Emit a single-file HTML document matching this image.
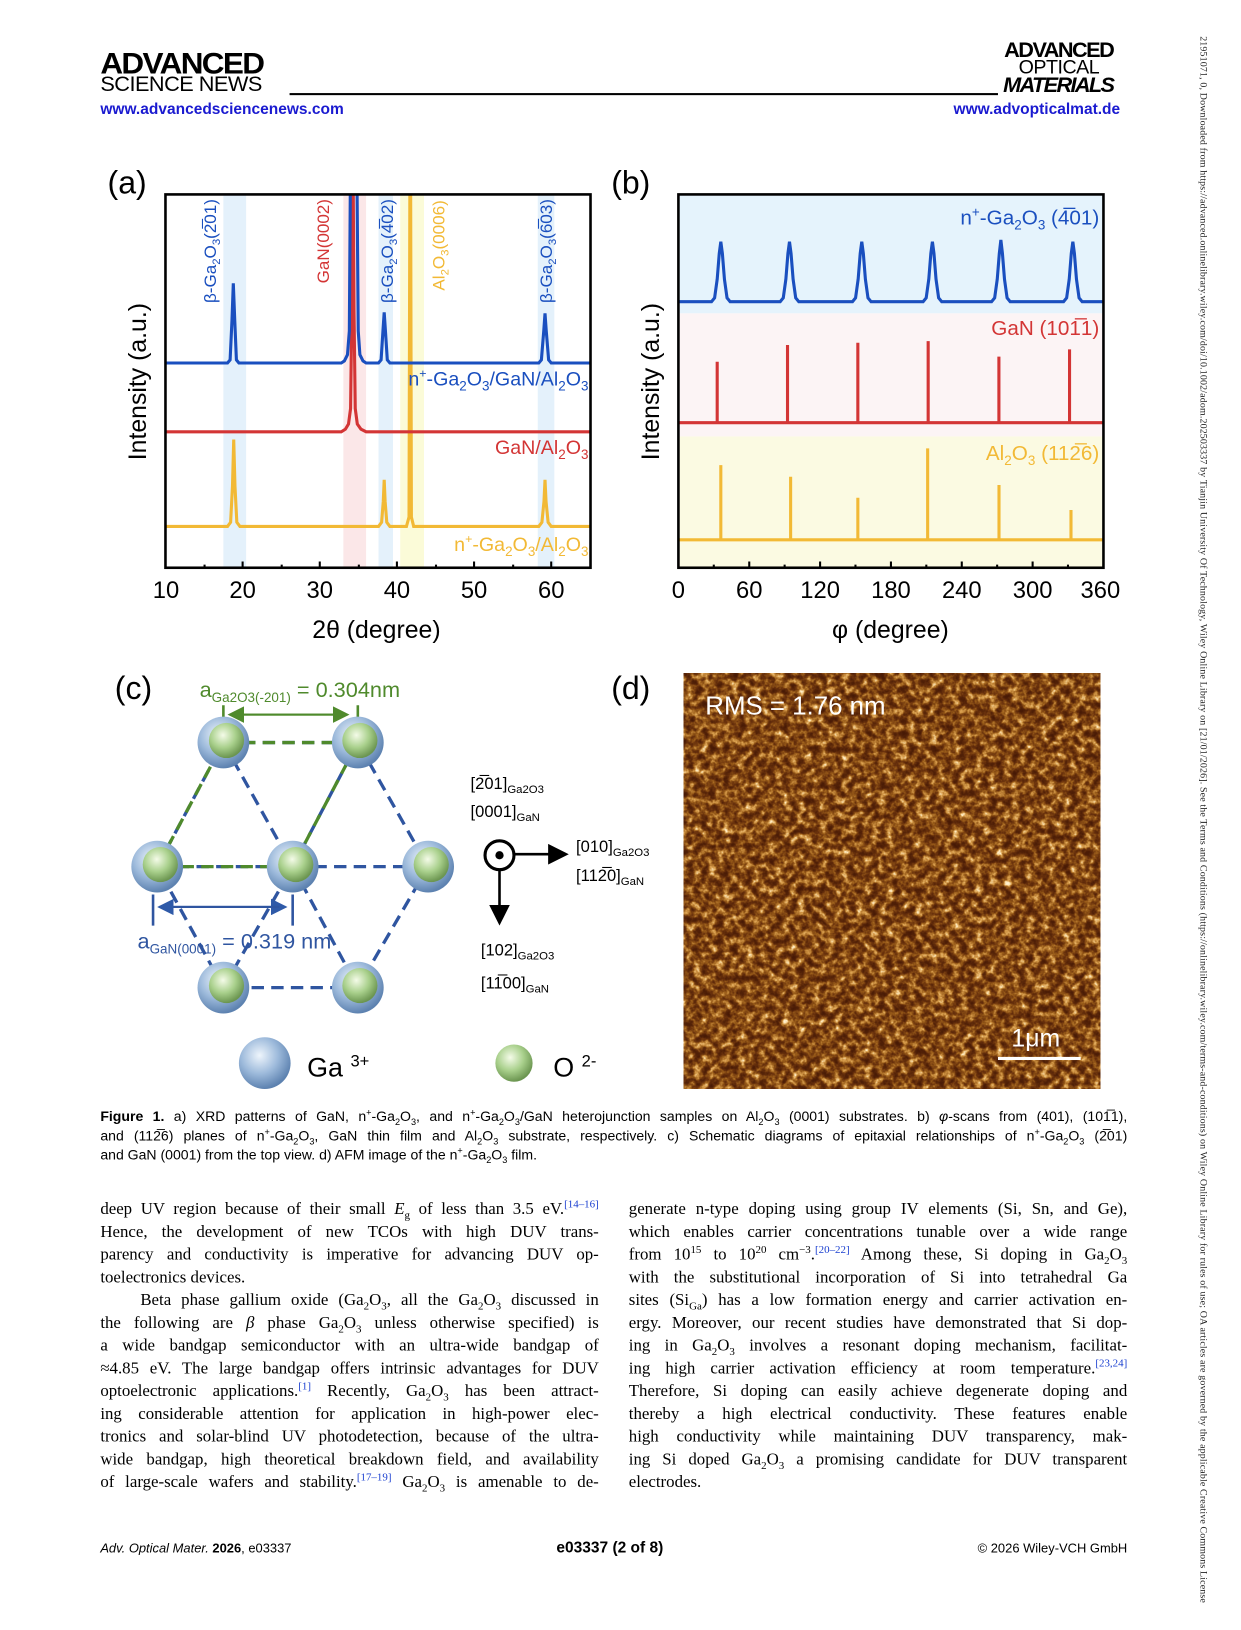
<!DOCTYPE html>
<html><head><meta charset="utf-8">
<style>
html,body{margin:0;padding:0;background:#fff;}
body{width:1241px;height:1630px;overflow:hidden;position:relative;}
#pg{position:absolute;left:0;top:0;width:1200px;height:1576px;transform:scale(1.03417);transform-origin:0 0;font-family:"Liberation Sans",sans-serif;color:#000;}
.abs{position:absolute;white-space:nowrap;}
.col{position:absolute;width:482px;font-family:"Liberation Serif",serif;font-size:16.3px;}
.col div{height:22px;line-height:22px;text-align:justify;text-align-last:justify;white-space:nowrap;overflow:visible;}
.col div.l{text-align-last:left;}
sub,sup{font-size:65%;line-height:0;}
.ref{color:#1a3fd0;}
.cap{position:absolute;left:97px;width:993px;font-size:13.6px;line-height:18.5px;}
.cap div{text-align:justify;text-align-last:justify;white-space:nowrap;}
.cap div.l{text-align-last:left;}
</style></head><body>
<div id="pg">
<!-- header -->
<div class="abs" style="left:97px;top:46px;font-size:29px;font-weight:bold;letter-spacing:-1.5px;transform:scaleX(1.05);transform-origin:0 0;">ADVANCED</div>
<div class="abs" style="left:97px;top:70px;font-size:21px;letter-spacing:-0.5px;">SCIENCE NEWS</div>
<div class="abs" style="left:280px;top:90px;width:685px;height:2px;background:#000;"></div>
<div class="abs" style="left:971px;top:37px;font-size:21px;font-weight:bold;letter-spacing:-1.5px;">ADVANCED</div>
<div class="abs" style="left:985px;top:55px;font-size:19px;letter-spacing:-0.5px;">OPTICAL</div>
<div class="abs" style="left:970px;top:71px;font-size:21px;font-weight:bold;letter-spacing:-1.6px;font-style:italic;">MATERIALS</div>
<div class="abs" style="left:97px;top:97px;font-size:15px;color:#1a1ad0;font-weight:bold;">www.advancedsciencenews.com</div>
<div class="abs" style="left:922px;top:97px;font-size:15px;color:#1a1ad0;font-weight:bold;">www.advopticalmat.de</div>

<!-- vertical side text -->
<div class="abs" style="left:1158px;top:35px;writing-mode:vertical-rl;font-family:'Liberation Serif',serif;font-size:9.6px;color:#222;letter-spacing:0.15px;">21951071, 0, Downloaded from https://advanced.onlinelibrary.wiley.com/doi/10.1002/adom.202503337 by Tianjin University Of Technology, Wiley Online Library on [21/01/2026]. See the Terms and Conditions (https://onlinelibrary.wiley.com/terms-and-conditions) on Wiley Online Library for rules of use; OA articles are governed by the applicable Creative Commons License</div>

<!-- figure -->
<svg class="abs" style="left:0;top:0;" width="1200" height="1576" viewBox="0 0 1200 1576" font-family="Liberation Sans, sans-serif">
<defs>
<clipPath id="ca"><rect x="160" y="188" width="411" height="361"/></clipPath>
<clipPath id="cb"><rect x="656" y="188" width="411" height="361"/></clipPath>
<radialGradient id="gb" cx="40%" cy="35%" r="65%"><stop offset="0" stop-color="#eef5fc"/><stop offset="0.55" stop-color="#9dbadb"/><stop offset="1" stop-color="#5d82b0"/></radialGradient>
<radialGradient id="gg" cx="40%" cy="35%" r="65%"><stop offset="0" stop-color="#f4fbe8"/><stop offset="0.55" stop-color="#a9d08c"/><stop offset="1" stop-color="#6b9550"/></radialGradient>
<filter id="afm" x="0" y="0" width="100%" height="100%" color-interpolation-filters="sRGB">
<feTurbulence type="fractalNoise" baseFrequency="0.14" numOctaves="3" seed="7" result="n"/>
<feColorMatrix in="n" type="matrix" values="1 0 0 0 0  1 0 0 0 0  1 0 0 0 0  0 0 0 0 1" result="g"/>
<feComponentTransfer in="g">
<feFuncR type="table" tableValues="0.28 0.28 0.32 0.42 0.6 0.85 1 1"/>
<feFuncG type="table" tableValues="0.1 0.1 0.13 0.2 0.36 0.62 0.92 1"/>
<feFuncB type="table" tableValues="0.02 0.02 0.03 0.05 0.1 0.3 0.75 1"/>
<feFuncA type="table" tableValues="1 1"/>
</feComponentTransfer>
</filter>
<marker id="ag" markerWidth="8" markerHeight="8" refX="7" refY="4" orient="auto"><path d="M0,0 L8,4 L0,8 z" fill="#4f8a2c"/></marker>
<marker id="ab" markerWidth="8" markerHeight="8" refX="7" refY="4" orient="auto"><path d="M0,0 L8,4 L0,8 z" fill="#2f5aa8"/></marker>
<marker id="ak" markerWidth="8" markerHeight="8" refX="6" refY="4" orient="auto"><path d="M0,0 L8,4 L0,8 z" fill="#000"/></marker>
</defs>

<!-- ===== Panel (a) ===== -->
<text x="104" y="187" font-size="31">(a)</text>
<g clip-path="url(#ca)">
<rect x="216" y="188" width="22" height="361" fill="#e4f1fb"/>
<rect x="332" y="188" width="22" height="361" fill="#fbe7e8"/>
<rect x="366" y="188" width="14" height="361" fill="#e4f1fb"/>
<rect x="387" y="188" width="23" height="361" fill="#fbfbd8"/>
<rect x="520" y="188" width="16" height="361" fill="#e4f1fb"/>
<path d="M160,509 L220,509 L223,505 L224.8,470 L226,425 L227.2,470 L229,505 L232,509 L366,509 L369,505 L370.6,485 L371.5,464 L372.4,485 L374,505 L377,509 L393,509 L395.5,500 L396.3,188 L397.1,188 L397.8,500 L400,509 L521,509 L524,505 L526,485 L527,464 L528,485 L530,505 L533,509 L571,509" fill="none" stroke="#f2b935" stroke-width="3"/>
<path d="M160,417.5 L330,417.5 L334,415 L337,410 L339,395 L340.2,300 L340.7,188 L341.6,188 L342.3,300 L343.5,395 L345.5,410 L349,415 L354,417.5 L571,417.5" fill="none" stroke="#d33535" stroke-width="3"/>
<path d="M160,351 L220,351 L222.5,348 L224.3,310 L225.6,274 L227,310 L228.6,348 L231,351 L330,351 L333,349 L336,343 L337.8,320 L338.7,188 M345.3,188 L346.4,320 L348,343 L351,349 L354,351 L366,351 L368.5,348 L370.3,320 L371.5,302 L372.7,320 L374.5,348 L377,351 L521,351 L523.5,348 L525.8,320 L527,303 L528.2,320 L530.5,348 L533,351 L571,351" fill="none" stroke="#1a4fbf" stroke-width="3"/>
</g>
<rect x="160" y="188" width="411" height="361" fill="none" stroke="#000" stroke-width="2.5"/>
<g stroke="#000" stroke-width="2">
<path d="M234.6,549v-6 M309.2,549v-6 M383.8,549v-6 M458.4,549v-6 M533,549v-6"/>
<path d="M197.8,549v-3 M272.4,549v-3 M347,549v-3 M421.6,549v-3 M496.2,549v-3"/>
</g>
<g font-size="23" text-anchor="middle">
<text x="160.5" y="578">10</text><text x="234.6" y="578">20</text><text x="309.2" y="578">30</text><text x="383.8" y="578">40</text><text x="458.4" y="578">50</text><text x="533" y="578">60</text>
</g>
<text x="364" y="617" font-size="24" text-anchor="middle">2θ (degree)</text>
<text transform="translate(141,369) rotate(-90)" font-size="24" text-anchor="middle">Intensity (a.u.)</text>
<g font-size="16.5">
<text transform="translate(209,293) rotate(-90)" fill="#1a4fbf">β-Ga<tspan font-size="11" baseline-shift="-4">2</tspan>O<tspan font-size="11" baseline-shift="-4">3</tspan>(2̅01)</text>
<text transform="translate(318,274) rotate(-90)" fill="#d33535">GaN(0002)</text>
<text transform="translate(380,293) rotate(-90)" fill="#1a4fbf">β-Ga<tspan font-size="11" baseline-shift="-4">2</tspan>O<tspan font-size="11" baseline-shift="-4">3</tspan>(4̅02)</text>
<text transform="translate(430,281) rotate(-90)" fill="#f2b935">Al<tspan font-size="11" baseline-shift="-4">2</tspan>O<tspan font-size="11" baseline-shift="-4">3</tspan>(0006)</text>
<text transform="translate(534,293) rotate(-90)" fill="#1a4fbf">β-Ga<tspan font-size="11" baseline-shift="-4">2</tspan>O<tspan font-size="11" baseline-shift="-4">3</tspan>(6̅03)</text>
</g>
<g font-size="19" text-anchor="end">
<text x="569" y="373" fill="#1a4fbf">n<tspan font-size="12" baseline-shift="8">+</tspan>-Ga<tspan font-size="13" baseline-shift="-5">2</tspan>O<tspan font-size="13" baseline-shift="-5">3</tspan>/GaN/Al<tspan font-size="13" baseline-shift="-5">2</tspan>O<tspan font-size="13" baseline-shift="-5">3</tspan></text>
<text x="569" y="439" fill="#d33535">GaN/Al<tspan font-size="13" baseline-shift="-5">2</tspan>O<tspan font-size="13" baseline-shift="-5">3</tspan></text>
<text x="569" y="533" fill="#f2b935">n<tspan font-size="12" baseline-shift="8">+</tspan>-Ga<tspan font-size="13" baseline-shift="-5">2</tspan>O<tspan font-size="13" baseline-shift="-5">3</tspan>/Al<tspan font-size="13" baseline-shift="-5">2</tspan>O<tspan font-size="13" baseline-shift="-5">3</tspan></text>
</g>

<!-- ===== Panel (b) ===== -->
<text x="591" y="187" font-size="31">(b)</text>
<g clip-path="url(#cb)">
<rect x="656" y="188" width="411" height="115" fill="#e5f3fc"/>
<rect x="656" y="303" width="411" height="119" fill="#fcf4f5"/>
<rect x="656" y="422" width="411" height="127" fill="#fbfae2"/>
<path d="M656,291.7 L688,291.7 L691,288 L693.5,270 L695.5,245 L697,233.7 L698.5,245 L700.5,270 L703,288 L706,291.7 L754.4,291.7 L757.4,288 L759.9,270 L761.9,245 L763.4,233.7 L764.9,245 L766.9,270 L769.4,288 L772.4,291.7 L824.3,291.7 L827.3,288 L829.8,270 L831.8,245 L833.3,233.7 L834.8,245 L836.8,270 L839.3,288 L842.3,291.7 L892.6,291.7 L895.6,288 L898.1,270 L900.1,245 L901.6,233.7 L903.1,245 L905.1,270 L907.6,288 L910.6,291.7 L958.8,291.7 L961.8,288 L964.3,270 L966.3,245 L967.8,232 L969.3,245 L971.3,270 L973.8,288 L976.8,291.7 L1028.4,291.7 L1031.4,288 L1033.9,270 L1035.9,245 L1037.4,233.7 L1038.9,245 L1040.9,270 L1043.4,288 L1046.4,291.7 L1067,291.7" fill="none" stroke="#1a4fbf" stroke-width="3"/>
<path d="M656,408.7 H1067 M693.5,408.7 V349.8 M761.5,408.7 V333.6 M829.5,408.7 V331.4 M897.5,408.7 V329.8 M965.9,408.7 V344.9 M1034.2,408.7 V337.8" fill="none" stroke="#d33535" stroke-width="3"/>
<path d="M656,522 H1067 M697,522 V449.7 M764.5,522 V461 M829.5,522 V481.3 M897,522 V433.6 M966,522 V469 M1035.6,522 V493.2" fill="none" stroke="#f2b935" stroke-width="3"/>
</g>
<rect x="656" y="188" width="411" height="361" fill="none" stroke="#000" stroke-width="2.5"/>
<g stroke="#000" stroke-width="2">
<path d="M724.5,549v-6 M793,549v-6 M861.5,549v-6 M930,549v-6 M998.5,549v-6"/>
<path d="M690.2,549v-3 M758.7,549v-3 M827.2,549v-3 M895.7,549v-3 M964.2,549v-3 M1032.7,549v-3"/>
</g>
<g font-size="23" text-anchor="middle">
<text x="656" y="578">0</text><text x="724.5" y="578">60</text><text x="793" y="578">120</text><text x="861.5" y="578">180</text><text x="930" y="578">240</text><text x="998.5" y="578">300</text><text x="1064" y="578">360</text>
</g>
<text x="861" y="617" font-size="24" text-anchor="middle">φ (degree)</text>
<text transform="translate(637,369) rotate(-90)" font-size="24" text-anchor="middle">Intensity (a.u.)</text>
<g font-size="20" text-anchor="end">
<text x="1063" y="217" fill="#1a4fbf">n<tspan font-size="13" baseline-shift="8">+</tspan>-Ga<tspan font-size="13" baseline-shift="-5">2</tspan>O<tspan font-size="13" baseline-shift="-5">3</tspan> (4̅01)</text>
<text x="1063" y="324" fill="#d33535">GaN (101̅1)</text>
<text x="1063" y="445" fill="#f2b935">Al<tspan font-size="13" baseline-shift="-5">2</tspan>O<tspan font-size="13" baseline-shift="-5">3</tspan> (112̅6)</text>
</g>

<!-- ===== Panel (c) ===== -->
<text x="111" y="676" font-size="31">(c)</text>
<text x="193" y="674" font-size="21" fill="#4f8a2c">a<tspan font-size="13" baseline-shift="-5">Ga2O3(-201)</tspan> = 0.304nm</text>
<path d="M216,682 V714 M346,682 V714" stroke="#4f8a2c" stroke-width="2.5"/>
<path d="M231,691 H336" stroke="#4f8a2c" stroke-width="2" marker-end="url(#ag)"/>
<path d="M331,691 H222" stroke="#4f8a2c" stroke-width="2" marker-end="url(#ag)"/>
<g stroke="#2f55a0" stroke-width="3.2" stroke-dasharray="12,7" fill="none">
<path d="M216,718 L346,718 L414,838 L346,955 L216,955 L152,838 Z"/>
<path d="M216,718 L283,838 L346,718 M152,838 L414,838 M216,955 L283,838 L346,955"/>
</g>
<g stroke="#4f8a2c" stroke-width="3.2" stroke-dasharray="12,7" fill="none">
<path d="M216,718 L346,718 L283,838 L152,838 Z"/>
</g>
<g>
<circle cx="216" cy="718" r="25" fill="url(#gb)"/><circle cx="219" cy="716" r="17" fill="url(#gg)"/>
<circle cx="346" cy="718" r="25" fill="url(#gb)"/><circle cx="348" cy="716" r="17" fill="url(#gg)"/>
<circle cx="152" cy="838" r="25" fill="url(#gb)"/><circle cx="155" cy="836" r="17" fill="url(#gg)"/>
<circle cx="283" cy="838" r="25" fill="url(#gb)"/><circle cx="286" cy="836" r="17" fill="url(#gg)"/>
<circle cx="414" cy="838" r="25" fill="url(#gb)"/><circle cx="417" cy="836" r="17" fill="url(#gg)"/>
<circle cx="216" cy="955" r="25" fill="url(#gb)"/><circle cx="219" cy="953" r="17" fill="url(#gg)"/>
<circle cx="346" cy="955" r="25" fill="url(#gb)"/><circle cx="348" cy="953" r="17" fill="url(#gg)"/>
</g>
<path d="M148,865 V895 M283,865 V895" stroke="#2f55a0" stroke-width="2.5"/>
<path d="M160,877 H276" stroke="#2f55a0" stroke-width="2" marker-end="url(#ab)"/>
<path d="M270,877 H154" stroke="#2f55a0" stroke-width="2" marker-end="url(#ab)"/>
<text x="133" y="917" font-size="21" fill="#2f55a0">a<tspan font-size="13" baseline-shift="-5">GaN(0001)</tspan> = 0.319 nm</text>
<circle cx="483" cy="827" r="14" fill="#fff" stroke="#000" stroke-width="3"/>
<circle cx="483" cy="827" r="4" fill="#000"/>
<path d="M497,826 H545" stroke="#000" stroke-width="2.5" marker-end="url(#ak)"/>
<path d="M483,841 V890" stroke="#000" stroke-width="2.5" marker-end="url(#ak)"/>
<g font-size="16">
<text x="455" y="763">[2̅01]<tspan font-size="11" baseline-shift="-4">Ga2O3</tspan></text>
<text x="455" y="790">[0001]<tspan font-size="11" baseline-shift="-4">GaN</tspan></text>
<text x="557" y="824">[010]<tspan font-size="11" baseline-shift="-4">Ga2O3</tspan></text>
<text x="557" y="852">[112̅0]<tspan font-size="11" baseline-shift="-4">GaN</tspan></text>
<text x="465" y="924">[102]<tspan font-size="11" baseline-shift="-4">Ga2O3</tspan></text>
<text x="465" y="956">[11̅00]<tspan font-size="11" baseline-shift="-4">GaN</tspan></text>
</g>
<circle cx="256" cy="1028" r="25" fill="url(#gb)"/>
<text x="297" y="1041" font-size="26">Ga <tspan font-size="16" baseline-shift="10">3+</tspan></text>
<circle cx="497" cy="1028" r="18" fill="url(#gg)"/>
<text x="535" y="1041" font-size="26">O <tspan font-size="16" baseline-shift="10">2-</tspan></text>

<!-- ===== Panel (d) ===== -->
<text x="591" y="676" font-size="31">(d)</text>
<rect x="661" y="651" width="403" height="402" fill="#7a4012"/>
<rect x="661" y="651" width="403" height="402" fill="#000" filter="url(#afm)"/>
<text x="682" y="691" font-size="25" fill="#fff">RMS = 1.76 nm</text>
<text x="978" y="1012" font-size="24" fill="#fff">1μm</text>
<rect x="965" y="1022" width="80" height="3" fill="#fff"/>
</svg>

<!-- caption -->
<div class="cap" style="top:1071px;">
<div><b>Figure 1.</b> a) XRD patterns of GaN, n<sup>+</sup>-Ga<sub>2</sub>O<sub>3</sub>, and n<sup>+</sup>-Ga<sub>2</sub>O<sub>3</sub>/GaN heterojunction samples on Al<sub>2</sub>O<sub>3</sub> (0001) substrates. b) <i>φ</i>-scans from (401), (101̅1),</div>
<div>and (112̅6) planes of n<sup>+</sup>-Ga<sub>2</sub>O<sub>3</sub>, GaN thin film and Al<sub>2</sub>O<sub>3</sub> substrate, respectively. c) Schematic diagrams of epitaxial relationships of n<sup>+</sup>-Ga<sub>2</sub>O<sub>3</sub> (2̅01)</div>
<div class="l">and GaN (0001) from the top view. d) AFM image of the n<sup>+</sup>-Ga<sub>2</sub>O<sub>3</sub> film.</div>
</div>

<!-- body columns -->
<div class="col" style="left:97px;top:1158px;">
<div>deep UV region because of their small <i>E</i><sub>g</sub> of less than 3.5 eV.<sup class="ref">[14–16]</sup></div>
<div>Hence, the development of new TCOs with high DUV trans-</div>
<div>parency and conductivity is imperative for advancing DUV op-</div>
<div class="l">toelectronics devices.</div>
<div>&nbsp;&nbsp;&nbsp;&nbsp;Beta phase gallium oxide (Ga<sub>2</sub>O<sub>3</sub>, all the Ga<sub>2</sub>O<sub>3</sub> discussed in</div>
<div>the following are <i>β</i> phase Ga<sub>2</sub>O<sub>3</sub> unless otherwise specified) is</div>
<div>a wide bandgap semiconductor with an ultra-wide bandgap of</div>
<div>≈4.85 eV. The large bandgap offers intrinsic advantages for DUV</div>
<div>optoelectronic applications.<sup class="ref">[1]</sup> Recently, Ga<sub>2</sub>O<sub>3</sub> has been attract-</div>
<div>ing considerable attention for application in high-power elec-</div>
<div>tronics and solar-blind UV photodetection, because of the ultra-</div>
<div>wide bandgap, high theoretical breakdown field, and availability</div>
<div>of large-scale wafers and stability.<sup class="ref">[17–19]</sup> Ga<sub>2</sub>O<sub>3</sub> is amenable to de-</div>
</div>
<div class="col" style="left:608px;top:1158px;">
<div>generate n-type doping using group IV elements (Si, Sn, and Ge),</div>
<div>which enables carrier concentrations tunable over a wide range</div>
<div>from 10<sup>15</sup> to 10<sup>20</sup> cm<sup>−3</sup>.<sup class="ref">[20–22]</sup> Among these, Si doping in Ga<sub>2</sub>O<sub>3</sub></div>
<div>with the substitutional incorporation of Si into tetrahedral Ga</div>
<div>sites (Si<sub>Ga</sub>) has a low formation energy and carrier activation en-</div>
<div>ergy. Moreover, our recent studies have demonstrated that Si dop-</div>
<div>ing in Ga<sub>2</sub>O<sub>3</sub> involves a resonant doping mechanism, facilitat-</div>
<div>ing high carrier activation efficiency at room temperature.<sup class="ref">[23,24]</sup></div>
<div>Therefore, Si doping can easily achieve degenerate doping and</div>
<div>thereby a high electrical conductivity. These features enable</div>
<div>high conductivity while maintaining DUV transparency, mak-</div>
<div>ing Si doped Ga<sub>2</sub>O<sub>3</sub> a promising candidate for DUV transparent</div>
<div class="l">electrodes.</div>
</div>

<!-- footer -->
<div class="abs" style="left:97px;top:1490px;font-size:12.5px;"><i>Adv. Optical Mater.</i> <b>2026</b>, e03337</div>
<div class="abs" style="left:538px;top:1488px;font-size:15px;font-weight:bold;">e03337 (2 of 8)</div>
<div class="abs" style="left:936px;top:1490px;font-size:12.5px;width:154px;text-align:right;">© 2026 Wiley-VCH GmbH</div>
</div>
</body></html>
